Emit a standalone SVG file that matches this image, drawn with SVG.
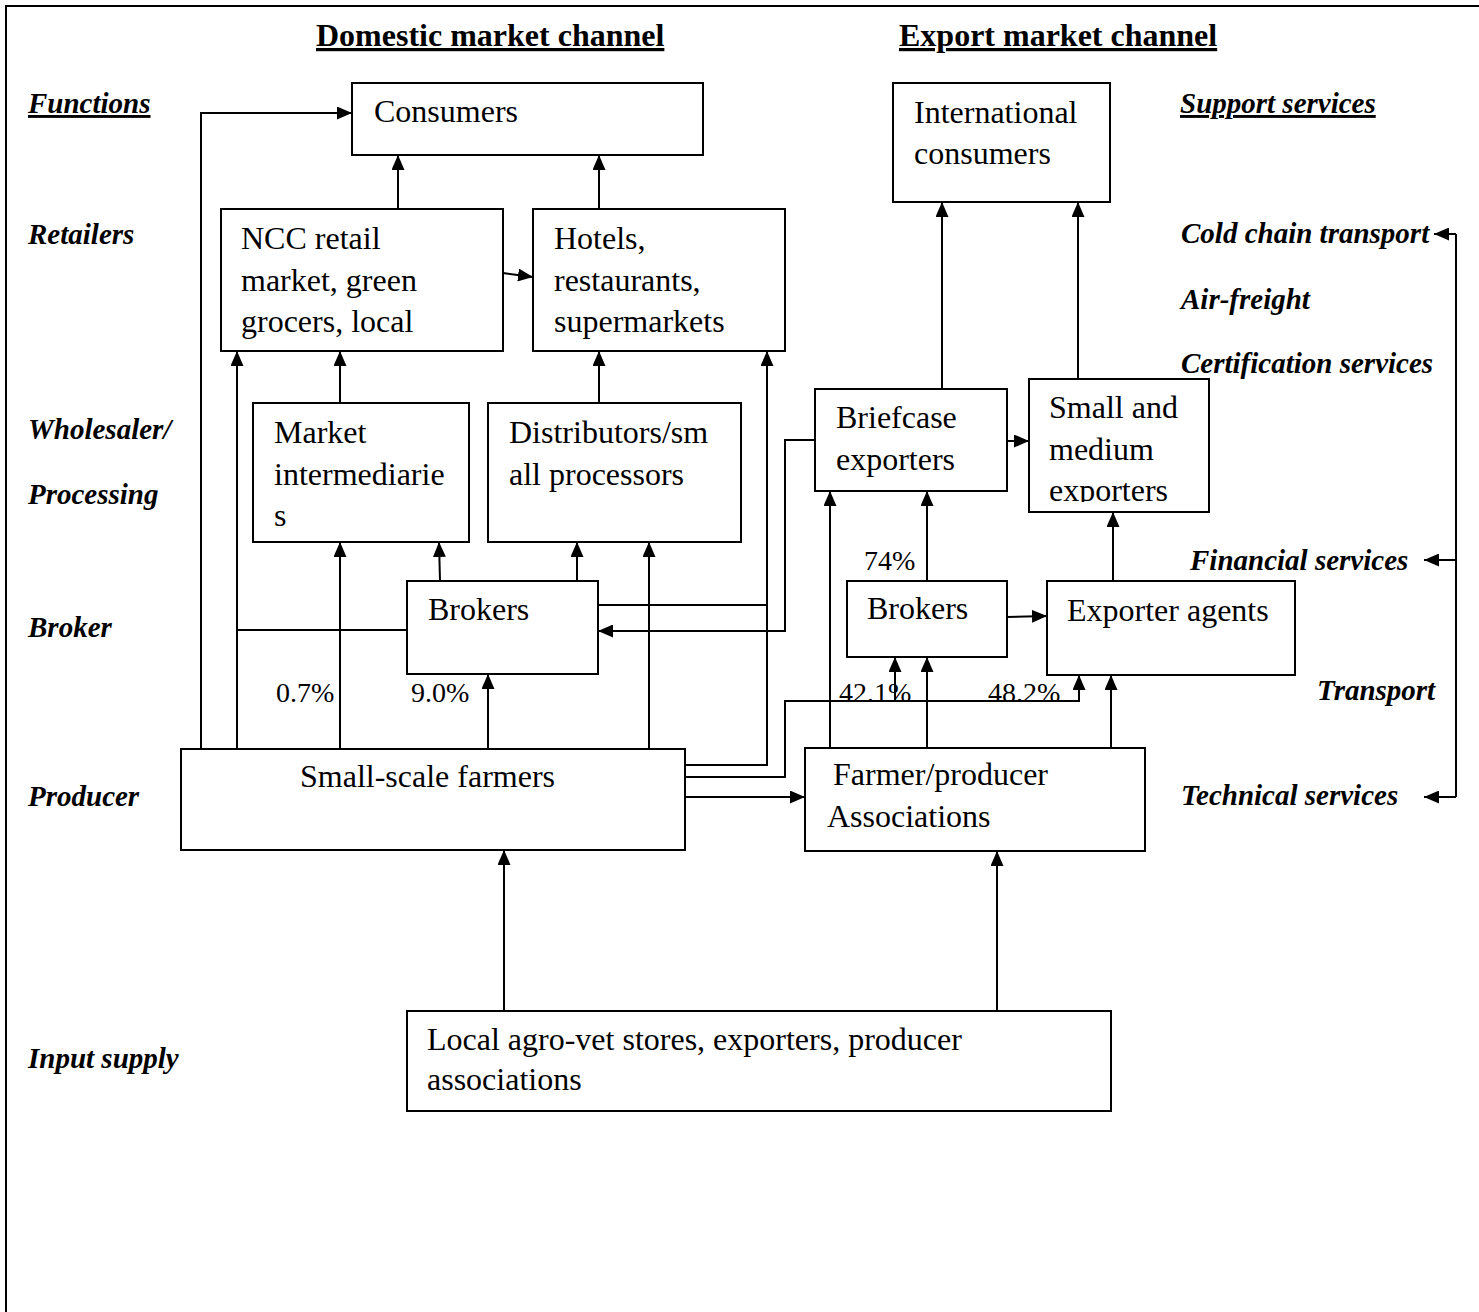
<svg xmlns="http://www.w3.org/2000/svg" width="1479" height="1312" viewBox="0 0 1479 1312">
<style>
.box{fill:#fff;stroke:#000;stroke-width:2}
.t{font-family:"Liberation Serif","Times New Roman",serif;font-size:32px;fill:#000}
.p{font-family:"Liberation Serif","Times New Roman",serif;font-size:28px;fill:#000}
.h{font-family:"Liberation Serif","Times New Roman",serif;font-size:32px;font-weight:bold;text-decoration:underline;fill:#000}
.l{font-family:"Liberation Serif","Times New Roman",serif;font-size:29px;font-weight:bold;font-style:italic;fill:#000}
.u{text-decoration:underline}
.c{fill:none;stroke:#000;stroke-width:2}
.a{marker-end:url(#arr)}
</style>
<defs>
<marker id="arr" markerUnits="userSpaceOnUse" markerWidth="15" markerHeight="13" refX="15" refY="6.5" orient="auto">
<path d="M0,0 L15,6.5 L0,13 z" fill="#000"/>
</marker>
<clipPath id="smeclip"><rect x="1029" y="379" width="180" height="123"/></clipPath>
</defs>
<rect x="6" y="6" width="1600" height="1400" fill="#fff" stroke="#000" stroke-width="2"/>

<g id="titles">
<text class="h" x="316" y="46">Domestic market channel</text>
<text class="h" x="899" y="46">Export market channel</text>
</g>

<g id="function-labels">
<text class="l u" x="28" y="113">Functions</text>
<text class="l" x="28" y="244">Retailers</text>
<text class="l" x="28" y="439">Wholesaler/</text>
<text class="l" x="28" y="504">Processing</text>
<text class="l" x="28" y="637">Broker</text>
<text class="l" x="28" y="806">Producer</text>
<text class="l" x="28" y="1068">Input supply</text>
</g>

<g id="support-labels">
<text class="l u" x="1180" y="113">Support services</text>
<text class="l" x="1181" y="243">Cold chain transport</text>
<text class="l" x="1181" y="309">Air-freight</text>
<text class="l" x="1181" y="373">Certification services</text>
<text class="l" x="1190" y="570">Financial services</text>
<text class="l" x="1317" y="700">Transport</text>
<text class="l" x="1181" y="805">Technical services</text>
</g>

<g id="consumers"><rect class="box" x="352" y="83" width="351" height="72"/><text class="t" x="374" y="122">Consumers</text></g>
<g id="intl-consumers"><rect class="box" x="893" y="83" width="217" height="119"/><text class="t" x="914" y="123">International</text><text class="t" x="914" y="164">consumers</text></g>
<g id="ncc-retail"><rect class="box" x="221" y="209" width="282" height="142"/><text class="t" x="241" y="249">NCC retail</text><text class="t" x="241" y="291">market, green</text><text class="t" x="241" y="332">grocers, local</text></g>
<g id="hotels"><rect class="box" x="533" y="209" width="252" height="142"/><text class="t" x="554" y="249">Hotels,</text><text class="t" x="554" y="291">restaurants,</text><text class="t" x="554" y="332">supermarkets</text></g>
<g id="market-intermediaries"><rect class="box" x="253" y="403" width="216" height="139"/><text class="t" x="274" y="443">Market</text><text class="t" x="274" y="485">intermediarie</text><text class="t" x="274" y="526">s</text></g>
<g id="distributors"><rect class="box" x="488" y="403" width="253" height="139"/><text class="t" x="509" y="443">Distributors/sm</text><text class="t" x="509" y="485">all processors</text></g>
<g id="briefcase-exporters"><rect class="box" x="815" y="389" width="192" height="102"/><text class="t" x="836" y="428">Briefcase</text><text class="t" x="836" y="470">exporters</text></g>
<g id="sme-exporters"><rect class="box" x="1029" y="379" width="180" height="133"/><g clip-path="url(#smeclip)"><text class="t" x="1049" y="418">Small and</text><text class="t" x="1049" y="460">medium</text><text class="t" x="1049" y="501">exporters</text></g></g>
<g id="brokers-domestic"><rect class="box" x="407" y="581" width="191" height="93"/><text class="t" x="428" y="620">Brokers</text></g>
<g id="brokers-export"><rect class="box" x="847" y="581" width="160" height="76"/><text class="t" x="867" y="619">Brokers</text></g>
<g id="exporter-agents"><rect class="box" x="1047" y="581" width="248" height="94"/><text class="t" x="1067" y="621">Exporter agents</text></g>
<g id="small-scale-farmers"><rect class="box" x="181" y="749" width="504" height="101"/><text class="t" x="300" y="787">Small-scale farmers</text></g>
<g id="farmer-associations"><rect class="box" x="805" y="748" width="340" height="103"/><text class="t" x="833" y="785">Farmer/producer</text><text class="t" x="827" y="827">Associations</text></g>
<g id="input-suppliers"><rect class="box" x="407" y="1011" width="704" height="100"/><text class="t" x="427" y="1050">Local agro-vet stores, exporters, producer</text><text class="t" x="427" y="1090">associations</text></g>

<g id="percentages">
<text class="p" x="276" y="702">0.7%</text>
<text class="p" x="411" y="702">9.0%</text>
<text class="p" x="864" y="570">74%</text>
<text class="p" x="839" y="702">42.1%</text>
<text class="p" x="988" y="702">48.2%</text>
</g>

<g id="connectors">
<path class="c a" d="M201,749 V113 H352"/>
<path class="c a" d="M237,749 V351"/>
<path class="c" d="M237,630 H407"/>
<path class="c a" d="M340,749 V542"/>
<path class="c a" d="M440,581 L439,542"/>
<path class="c a" d="M577,581 V542"/>
<path class="c a" d="M488,749 V674"/>
<path class="c a" d="M649,749 V542"/>
<path class="c a" d="M340,403 V351"/>
<path class="c a" d="M599,403 V351"/>
<path class="c a" d="M398,209 V155"/>
<path class="c a" d="M599,209 V155"/>
<path class="c a" d="M503,273 L533,277"/>
<path class="c a" d="M685,765 H767 V351"/>
<path class="c" d="M598,605 H767"/>
<path class="c a" d="M815,440 H785 V631 H598"/>
<path class="c a" d="M685,777 H785 V701 H1079 V675"/>
<path class="c a" d="M685,797 H805"/>
<path class="c a" d="M830,748 V491"/>
<path class="c a" d="M927,748 V657"/>
<path class="c a" d="M895,701 V657"/>
<path class="c a" d="M1111,748 V675"/>
<path class="c a" d="M927,581 V491"/>
<path class="c a" d="M1007,617 L1047,616"/>
<path class="c a" d="M1113,581 V512"/>
<path class="c a" d="M1007,441 H1029"/>
<path class="c a" d="M942,389 V202"/>
<path class="c a" d="M1078,379 V202"/>
<path class="c a" d="M504,1011 V850"/>
<path class="c a" d="M997,1011 V851"/>
<path class="c" d="M1456,234 V797"/>
<path class="c a" d="M1456,234 H1434"/>
<path class="c a" d="M1456,560 H1424"/>
<path class="c a" d="M1456,797 H1424"/>
</g>
</svg>
